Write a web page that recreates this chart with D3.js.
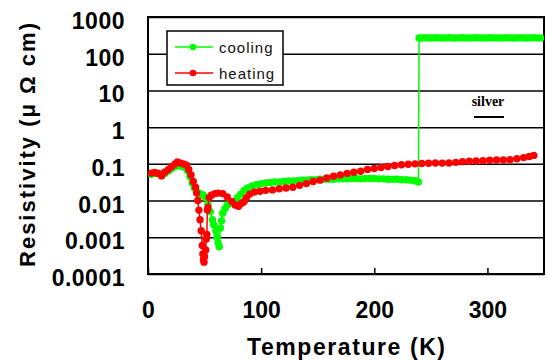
<!DOCTYPE html>
<html>
<head>
<meta charset="utf-8">
<script src="https://cdn.jsdelivr.net/npm/d3@7"></script>
<style>
  html, body { margin: 0; background: #fff; }
  svg { display: block; }
</style>
</head>
<body>
<div id="chart"></div>
<script>
/* Resistivity vs temperature, log scale, cooling / heating runs */

const X_TICKS = [0, 100, 200, 300];
const Y_TICKS = [1000, 100, 10, 1, 0.1, 0.01, 0.001, 0.0001];
const Y_LABELS = ["1000", "100", "10", "1", "0.1", "0.01", "0.001", "0.0001"];
const SERIES = ["cooling", "heating"];

// cooling run (green)
const coolT = [3, 6, 9, 12, 15, 18, 21, 24, 27, 30, 33, 35, 37, 39, 41, 43, 45, 47, 49, 51,
  53, 55, 57, 58, 60, 61, 62, 63, 64, 65, 66, 68, 70, 73, 76, 79, 82, 85, 88, 92,
  96, 100, 104, 108, 112, 116, 120, 124, 128, 132, 136, 140, 144, 148, 152, 156, 160, 164, 168, 172,
  176, 180, 184, 188, 192, 196, 200, 204, 208, 212, 216, 220, 224, 228, 232, 235, 237, 239,
  239.6, 242, 245, 248, 251, 254, 257, 260, 263, 266, 269, 272, 275, 278, 281, 284, 287, 290,
  293, 296, 299, 302, 305, 308, 311, 314, 317, 320, 323, 326, 329, 332, 335, 338, 341, 344, 347];
const coolR = [0.052, 0.055, 0.056, 0.052, 0.055, 0.064, 0.075, 0.085, 0.09, 0.085, 0.078, 0.065, 0.045, 0.03, 0.022, 0.018, 0.016, 0.015, 0.014, 0.012,
  0.008, 0.005, 0.003, 0.0022, 0.0015, 0.001, 0.0007, 0.00055, 0.0018, 0.0028, 0.0045, 0.006, 0.0075, 0.0085, 0.0095, 0.012, 0.015, 0.019, 0.022, 0.025,
  0.027, 0.029, 0.03, 0.031, 0.032, 0.032, 0.033, 0.034, 0.034, 0.035, 0.036, 0.036, 0.037, 0.037, 0.038, 0.038, 0.038, 0.038, 0.039, 0.039,
  0.039, 0.04, 0.04, 0.039, 0.04, 0.04, 0.04, 0.039, 0.039, 0.038, 0.038, 0.038, 0.037, 0.037, 0.036, 0.035, 0.034, 0.032,
  270, 268, 272, 270, 269, 271, 270, 268, 270, 272, 270, 269, 270, 271, 270, 268, 270, 271,
  270, 269, 270, 272, 270, 270, 268, 270, 271, 270, 269, 270, 272, 270, 269, 270, 271, 270, 270];

// heating run (red)
const heatT = [3, 6, 9, 12, 15, 18, 21, 24, 26, 29, 32, 34, 36, 38, 40, 42, 43, 44, 45, 46,
  47, 48, 48.5, 49, 49.5, 50, 51, 51.5, 52, 52.5, 53, 54, 56, 59, 62, 66, 70, 74, 77, 80,
  83, 85, 87, 90, 94, 99, 104, 110, 116, 122, 128, 134, 140, 146, 152, 158, 164, 170, 176, 182,
  188, 194, 200, 206, 212, 218, 224, 230, 236, 242, 248, 254, 260, 266, 272, 278, 284, 290, 296, 302,
  308, 314, 320, 326, 332, 337, 341];
const heatR = [0.056, 0.058, 0.055, 0.047, 0.06, 0.07, 0.085, 0.1, 0.112, 0.105, 0.098, 0.092, 0.07, 0.05, 0.033, 0.023, 0.016, 0.01, 0.0055, 0.003,
  0.0015, 0.0006, 0.00035, 0.00025, 0.00021, 0.0003, 0.00045, 0.0009, 0.0012, 0.0055, 0.0065, 0.012, 0.014, 0.0155, 0.016, 0.0155, 0.0125, 0.0095, 0.0076, 0.007,
  0.0085, 0.0095, 0.012, 0.015, 0.017, 0.018, 0.019, 0.0195, 0.021, 0.022, 0.023, 0.026, 0.029, 0.033, 0.036, 0.041, 0.046, 0.05, 0.055, 0.059,
  0.063, 0.07, 0.075, 0.08, 0.085, 0.09, 0.095, 0.098, 0.1, 0.102, 0.104, 0.106, 0.105, 0.106, 0.11, 0.115, 0.118, 0.12, 0.122, 0.125,
  0.128, 0.128, 0.13, 0.138, 0.148, 0.158, 0.17];

const COLORS = ["#00ff00", "#ff0000"];
const W = 548, H = 360;
const M = { top: 17, right: 4, bottom: 86, left: 148 };
const iw = W - M.left - M.right, ih = H - M.top - M.bottom;
const FONT = "'Liberation Sans', Arial, sans-serif";

const svg = d3.select("#chart").append("svg")
  .attr("width", W).attr("height", H)
  .attr("viewBox", `0 0 ${W} ${H}`);
const g = svg.append("g").attr("transform", `translate(${M.left},${M.top})`);

const x = d3.scaleLinear().domain([0, 350]).range([0, iw]);
const y = d3.scaleLog().domain([0.0001, 1000]).range([ih, 0]);

/* eixos ---------------------------------------------------------------- */
const gy = g.append("g")
  .call(d3.axisLeft(y).tickValues(Y_TICKS).tickSize(-iw).tickSizeOuter(0)
    .tickPadding(23).tickFormat((d, i) => Y_LABELS[i]));
gy.select(".domain").remove();
gy.selectAll(".tick line").attr("stroke", "#000").attr("stroke-width", 1.5);
gy.selectAll(".tick text")
  .attr("dy", "0.5em").attr("fill", "#000")
  .style("font", `bold 23px ${FONT}`).style("letter-spacing", "0.5px");

const gx = g.append("g").attr("transform", `translate(0,${ih})`)
  .call(d3.axisBottom(x).tickValues(X_TICKS).tickSize(-6).tickSizeOuter(0)
    .tickPadding(28).tickFormat(d3.format("d")));
gx.select(".domain").remove();
gx.selectAll(".tick line").attr("stroke", "#000").attr("stroke-width", 1.5);
gx.selectAll(".tick text").attr("fill", "#000")
  .style("font", `bold 23px ${FONT}`);

g.append("rect").attr("width", iw).attr("height", ih)
  .attr("fill", "none").attr("stroke", "#000").attr("stroke-width", 2);

/* séries ---------------------------------------------------------------- */
const runs = [
  { name: SERIES[0], T: coolT, R: coolR, color: COLORS[0] },
  { name: SERIES[1], T: heatT, R: heatR, color: COLORS[1] },
];
const line = d3.line().x((d) => x(d[0])).y((d) => y(d[1]));

runs.forEach((s) => {
  const pts = s.T.map((t, i) => [t, s.R[i]]);
  g.append("path").datum(pts).attr("d", line)
    .attr("fill", "none").attr("stroke", s.color).attr("stroke-width", 1.5);
  g.append("g").selectAll("circle").data(pts).join("circle")
    .attr("cx", (d) => x(d[0])).attr("cy", (d) => y(d[1]))
    .attr("r", 3.7).attr("fill", s.color);
});

/* legenda --------------------------------------------------------------- */
const leg = svg.append("g").attr("transform", "translate(167,31)");
leg.append("rect").attr("width", 116).attr("height", 54)
  .attr("fill", "#fff").attr("stroke", "#000").attr("stroke-width", 1.5);
runs.forEach((s, i) => {
  const row = leg.append("g").attr("transform", `translate(0,${16 + i * 26})`);
  row.append("line").attr("x1", 8).attr("x2", 46)
    .attr("stroke", s.color).attr("stroke-width", 1.5);
  row.append("circle").attr("cx", 26).attr("r", 3.3).attr("fill", s.color);
  row.append("text").attr("x", 52).attr("y", 5.5).text(s.name)
    .style("font", `15px ${FONT}`).style("letter-spacing", "1px").attr("fill", "#111");
});

/* rótulos --------------------------------------------------------------- */
svg.append("text").attr("x", 488).attr("y", 106).attr("text-anchor", "middle")
  .style("font", "bold 14px 'Liberation Serif', serif").text("silver");
svg.append("line").attr("x1", 474).attr("x2", 504).attr("y1", 117).attr("y2", 117)
  .attr("stroke", "#000").attr("stroke-width", 2);

svg.append("text")
  .attr("transform", "translate(35,145) rotate(-90)")
  .attr("text-anchor", "middle")
  .attr("textLength", 244).attr("lengthAdjust", "spacing")
  .style("font", `bold 22px ${FONT}`)
  .text("Resistivity (μ Ω cm)");

svg.append("text")
  .attr("x", 346).attr("y", 355).attr("text-anchor", "middle")
  .attr("textLength", 198).attr("lengthAdjust", "spacing")
  .style("font", `bold 23px ${FONT}`)
  .text("Temperature (K)");
</script>
</body>
</html>
